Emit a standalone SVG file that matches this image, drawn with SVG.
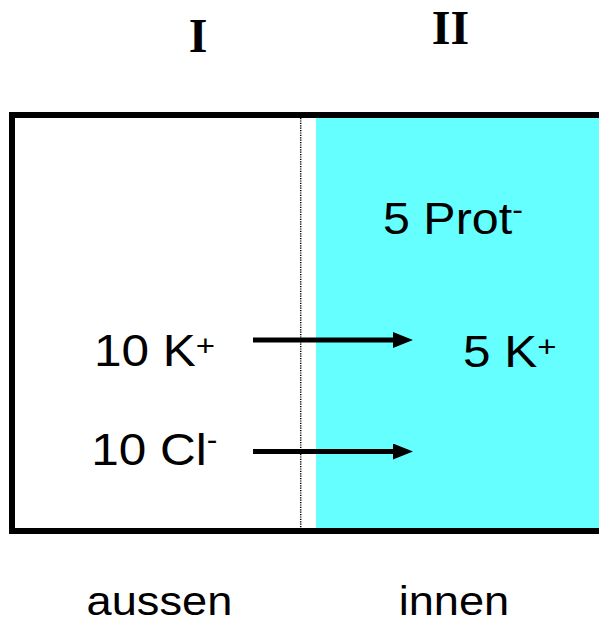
<svg xmlns="http://www.w3.org/2000/svg" width="599" height="623" viewBox="0 0 599 623">
  <style>
    .lbl { font-family: "Liberation Sans", Arial, sans-serif; fill: #000; }
    .roman { font-family: "Liberation Serif", "Times New Roman", serif; font-weight: bold; font-size: 48px; fill: #000; text-anchor: middle; }
    .arrow { stroke: #000; stroke-width: 5; fill: none; }
  </style>
  <defs>
    <marker id="head" markerUnits="userSpaceOnUse" markerWidth="20" markerHeight="16" refX="2" refY="8" orient="auto" viewBox="0 0 20 16">
      <path d="M0,0 L20,8 L0,16 Z" fill="#000"/>
    </marker>
  </defs>

  <rect width="599" height="623" fill="#fff"/>

  <g id="compartment-II">
    <rect x="316" y="118" width="290" height="410" fill="#66FFFF"/>
  </g>

  <g id="membrane">
    <line x1="300.7" y1="118" x2="300.7" y2="528" stroke="#000" stroke-width="1.5" stroke-dasharray="1.2 1.2"/>
  </g>

  <g id="container">
    <path d="M 610 115 H 12 V 531 H 610" fill="none" stroke="#000" stroke-width="6"/>
  </g>

  <g id="header-I"><text class="roman" x="198" y="51.7">I</text></g>
  <g id="header-II"><text class="roman" x="450.5" y="44">II</text></g>

  <g id="label-prot" transform="translate(383,234.3) scale(1.1,1)">
    <text class="lbl" x="0" y="0" font-size="44">5 Prot<tspan font-size="29" dy="-14">-</tspan></text>
  </g>

  <g id="label-k-out" transform="translate(94,366) scale(1.1,1)">
    <text class="lbl" x="0" y="0" font-size="45">10 K<tspan font-size="30" dy="-10">+</tspan></text>
  </g>

  <g id="label-k-in" transform="translate(463,366.5) scale(1.1,1)">
    <text class="lbl" x="0" y="0" font-size="45">5 K<tspan font-size="30" dy="-10">+</tspan></text>
  </g>

  <g id="label-cl" transform="translate(91.3,464.5) scale(1.1,1)">
    <text class="lbl" x="0" y="0" font-size="45">10 Cl<tspan font-size="29" dy="-15">-</tspan></text>
  </g>

  <g id="label-aussen" transform="translate(86.6,615) scale(1.13,1)">
    <text class="lbl" x="0" y="0" font-size="40">aussen</text>
  </g>

  <g id="label-innen" transform="translate(398.7,615) scale(1.13,1)">
    <text class="lbl" x="0" y="0" font-size="40">innen</text>
  </g>

  <g id="connectors">
    <line class="arrow" x1="253" y1="340" x2="395" y2="340" marker-end="url(#head)"/>
    <line class="arrow" x1="253" y1="451.5" x2="395" y2="451.5" marker-end="url(#head)"/>
  </g>
</svg>
